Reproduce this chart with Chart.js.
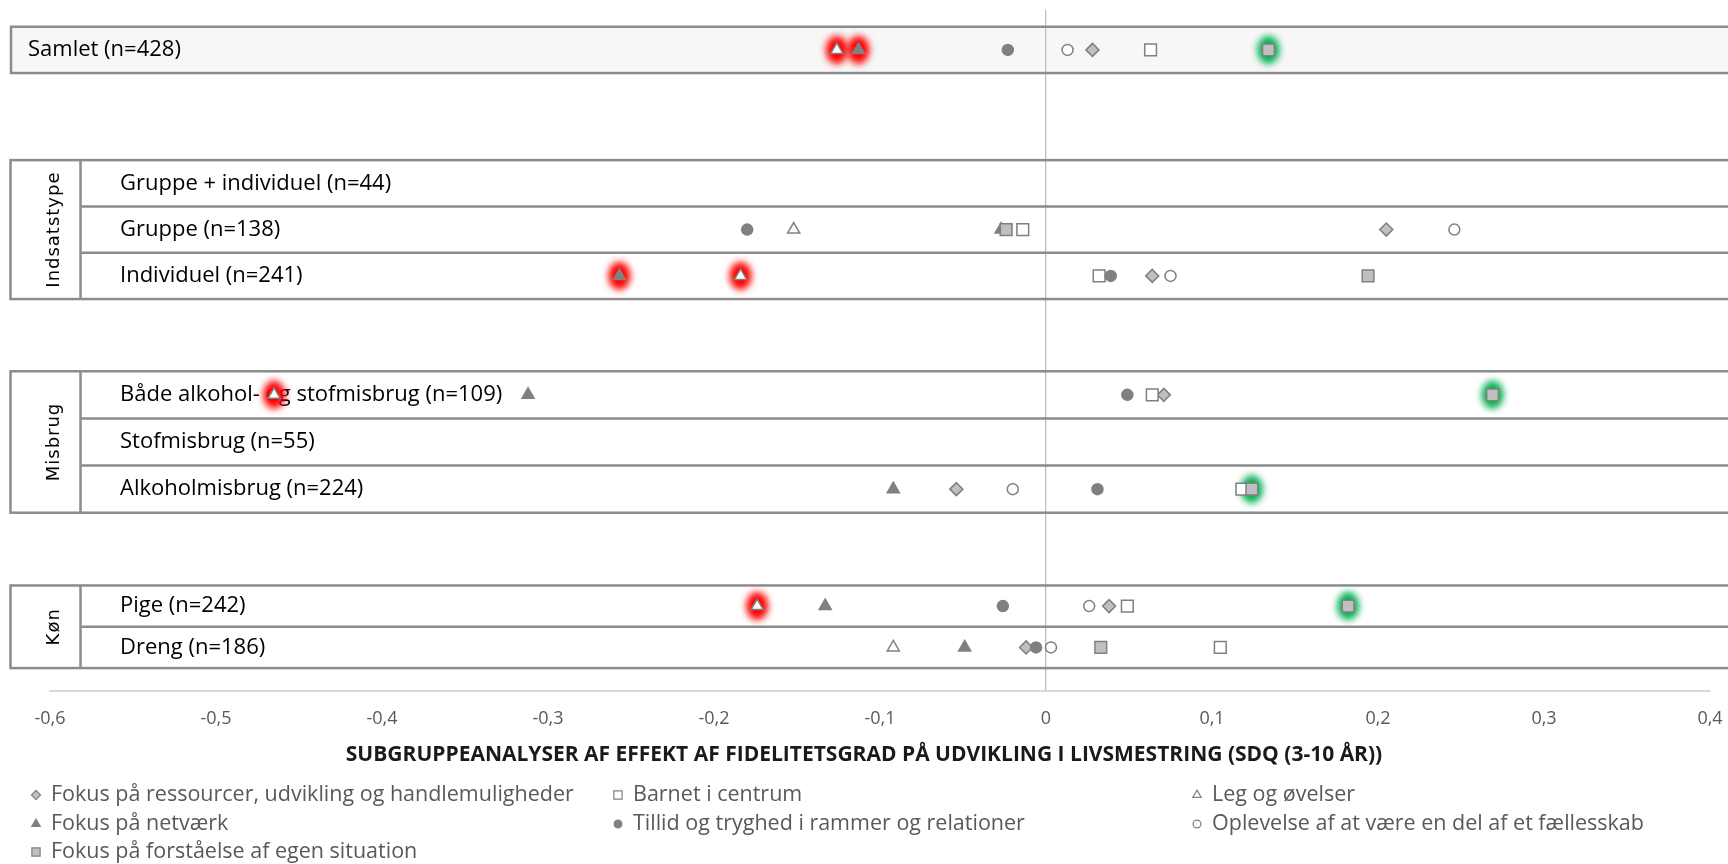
<!DOCTYPE html>
<html>
<head>
<meta charset="utf-8">
<script src="https://cdn.jsdelivr.net/npm/chart.js@4.4.0/dist/chart.umd.min.js"></script>
<style>
  html, body { margin: 0; padding: 0; background: #fff; }
  #wrap { width: 1728px; height: 864px; }
</style>
</head>
<body>
<div id="wrap"><canvas id="chart" width="1728" height="864"></canvas></div>
<script>
// rækker (kategorier), i rækkefølge fra toppen
const rowLabels = [
  'Samlet (n=428)',
  'Gruppe + individuel (n=44)', 'Gruppe (n=138)', 'Individuel (n=241)',
  'Både alkohol- og stofmisbrug (n=109)', 'Stofmisbrug (n=55)', 'Alkoholmisbrug (n=224)',
  'Pige (n=242)', 'Dreng (n=186)'
];
const groupNames = ['', 'Indsatstype', 'Misbrug', 'Køn'];
const groupSizes = [1, 3, 3, 2];

const seriesNames = [
  'Fokus på ressourcer, udvikling og handlemuligheder',
  'Barnet i centrum',
  'Leg og øvelser',
  'Fokus på netværk',
  'Tillid og tryghed i rammer og relationer',
  'Oplevelse af at være en del af et fællesskab',
  'Fokus på forståelse af egen situation'
];

// effekter pr. række (null = ingen værdi)
const ressourcer  = [0.028, null, 0.205, 0.064, 0.071, null, -0.054, 0.038, -0.012];
const barnet      = [0.063, null, -0.014, 0.032, 0.064, null, 0.118, 0.049, 0.105];
const leg         = [-0.126, null, -0.152, -0.184, -0.465, null, null, -0.174, -0.092];
const netvaerk    = [-0.113, null, -0.027, -0.257, -0.312, null, -0.092, -0.133, -0.049];
const tillid      = [-0.023, null, -0.180, 0.039, 0.049, null, 0.031, -0.026, -0.006];
const oplevelse   = [0.013, null, 0.246, 0.075, null, null, -0.020, 0.026, 0.003];
const forstaaelse = [0.134, null, -0.024, 0.194, 0.269, null, 0.124, 0.182, 0.033];

// signifikans: -1 = negativ (rød), 1 = positiv (grøn)
const legSig         = [-1, 0, 0, -1, -1, 0, 0, -1, 0];
const netvaerkSig    = [-1, 0, 0, -1, 0, 0, 0, 0, 0];
const forstaaelseSig = [1, 0, 0, 0, 1, 0, 1, 1, 0];

const tickLabels = ['-0,6', '-0,5', '-0,4', '-0,3', '-0,2', '-0,1', '0', '0,1', '0,2', '0,3', '0,4'];
const axisTitle = 'SUBGRUPPEANALYSER AF EFFEKT AF FIDELITETSGRAD PÅ UDVIKLING I LIVSMESTRING (SDQ (3-10 ÅR))';

// layout (y-enheder = rækkehøjder)
const groupTop = [0, 2.88, 7.44, 12.065];
const groupRowH = [1, 1, 1.018, 0.892];
const rowPos = [];
groupSizes.forEach((n, g) => {
  for (let k = 0; k < n; k++) rowPos.push(groupTop[g] + groupRowH[g] * (k + 0.5));
});

const seriesValues = [ressourcer, barnet, leg, netvaerk, tillid, oplevelse, forstaaelse];
const seriesSig = [null, null, legSig, netvaerkSig, null, null, forstaaelseSig];
const styles = [
  { pointStyle: 'rectRot', radius: 6.5, bg: '#bfbfbf' },
  { pointStyle: 'rect', radius: 8.3, bg: '#ffffff' },
  { pointStyle: 'triangle', radius: 7, bg: '#ffffff' },
  { pointStyle: 'triangle', radius: 7, bg: '#808080' },
  { pointStyle: 'circle', radius: 5.5, bg: '#808080' },
  { pointStyle: 'circle', radius: 5.5, bg: '#ffffff' },
  { pointStyle: 'rect', radius: 8.3, bg: '#bfbfbf' }
];
const lineGray = '#8c8c8c';
const font = 'Open Sans';

const datasets = seriesValues.map((vals, i) => ({
  label: seriesNames[i],
  data: vals.map((v, r) => ({ x: v, y: rowPos[r] })),
  pointStyle: styles[i].pointStyle,
  pointRadius: styles[i].radius,
  pointBackgroundColor: styles[i].bg,
  pointBorderColor: '#808080',
  pointBorderWidth: 1.5,
  showLine: false,
  order: seriesValues.length - i,
  clip: false
}));

const panels = {
  id: 'panels',
  beforeDraw(chart) {
    const { ctx } = chart;
    const y = chart.scales.y;
    ctx.save();
    ctx.fillStyle = '#ffffff';
    ctx.fillRect(0, 0, chart.width, chart.height);
    const t = y.getPixelForValue(groupTop[0]);
    const b = y.getPixelForValue(groupTop[0] + groupRowH[0]);
    ctx.fillStyle = '#f7f7f7';
    ctx.fillRect(11, t, chart.width, b - t);
    ctx.restore();
  },
  beforeDatasetsDraw(chart) {
    const { ctx } = chart;
    const y = chart.scales.y;
    ctx.save();
    ctx.strokeStyle = lineGray;
    ctx.lineWidth = 2.5;
    let r = 0;
    groupSizes.forEach((n, g) => {
      const top = y.getPixelForValue(groupTop[g]);
      const bottom = y.getPixelForValue(groupTop[g] + groupRowH[g] * n);
      const left = g === 0 ? 11 : 10.5;
      ctx.strokeRect(left, top, chart.width + 10, bottom - top);
      if (groupNames[g]) {
        ctx.beginPath();
        ctx.moveTo(80.5, top);
        ctx.lineTo(80.5, bottom);
        for (let k = 1; k < n; k++) {
          const yy = y.getPixelForValue(groupTop[g] + groupRowH[g] * k);
          ctx.moveTo(80.5, yy);
          ctx.lineTo(chart.width + 5, yy);
        }
        ctx.stroke();
        ctx.save();
        ctx.translate(54, (top + bottom) / 2);
        ctx.rotate(-Math.PI / 2);
        ctx.fillStyle = '#000';
        ctx.font = '18px "DejaVu Sans"';
        ctx.letterSpacing = '1px';
        ctx.textAlign = 'center';
        ctx.textBaseline = 'middle';
        ctx.fillText(groupNames[g], 0, 0);
        ctx.restore();
      }
      ctx.fillStyle = '#000';
      ctx.font = '22px "' + font + '"';
      ctx.textAlign = 'left';
      ctx.textBaseline = 'middle';
      for (let k = 0; k < n; k++, r++) {
        ctx.fillText(rowLabels[r], g === 0 ? 28 : 120, y.getPixelForValue(rowPos[r]));
      }
    });
    ctx.restore();

    // glød om signifikante resultater
    seriesSig.forEach((sig, i) => {
      if (!sig) return;
      const meta = chart.getDatasetMeta(i);
      meta.data.forEach((pt, k) => {
        if (!sig[k] || pt.skip) return;
        ctx.save();
        ctx.filter = 'blur(3.5px)';
        ctx.fillStyle = sig[k] < 0 ? '#ff0000' : '#00b050';
        ctx.beginPath();
        ctx.ellipse(pt.x, pt.y, 11, 14, 0, 0, Math.PI * 2);
        ctx.fill();
        ctx.restore();
      });
    });
  },
  afterDraw(chart) {
    const { ctx } = chart;
    ctx.save();
    ctx.fillStyle = '#1a1a1a';
    ctx.font = 'bold 21px "' + font + '"';
    ctx.textAlign = 'center';
    ctx.textBaseline = 'middle';
    ctx.fillText(axisTitle, 864, 755);

    const colX = [36, 618, 1197];
    const rowY = [795, 824, 852];
    seriesNames.forEach((name, i) => {
      const x = colX[i % 3], yy = rowY[Math.floor(i / 3)];
      ctx.fillStyle = styles[i].bg;
      ctx.strokeStyle = '#808080';
      ctx.lineWidth = 1.2;
      Chart.helpers.drawPoint(ctx, {
        pointStyle: styles[i].pointStyle,
        radius: styles[i].radius * 0.7,
        borderWidth: 1.2,
        rotation: 0
      }, x, yy);
      ctx.fillStyle = '#595959';
      ctx.font = '21.5px "' + font + '"';
      ctx.textAlign = 'left';
      ctx.textBaseline = 'middle';
      ctx.fillText(name, x + 15, yy);
    });
    ctx.restore();
  }
};

new Chart(document.getElementById('chart'), {
  type: 'scatter',
  data: { datasets },
  options: {
    responsive: false,
    animation: false,
    events: [],
    layout: { padding: { left: 50, right: 18, top: 7, bottom: 0 } },
    plugins: { legend: { display: false }, tooltip: { enabled: false } },
    scales: {
      x: {
        type: 'linear',
        min: -0.6,
        max: 0.4,
        ticks: {
          stepSize: 0.1,
          padding: 17,
          color: '#595959',
          font: { family: font, size: 18 },
          callback: v => tickLabels[Math.round(v * 10) + 6]
        },
        grid: {
          drawTicks: false,
          color: c => (Math.abs(c.tick.value) < 1e-9 ? '#bfbfbf' : 'rgba(0,0,0,0)'),
          lineWidth: 1.3
        },
        border: { display: true, color: '#d9d9d9', width: 2 },
        afterFit: s => { s.height = 173; s.paddingLeft = 0; s.paddingRight = 0; }
      },
      y: {
        type: 'linear',
        reverse: true,
        min: -0.366,
        max: 14.344,
        display: false
      }
    }
  },
  plugins: [panels]
});
</script>
</body>
</html>
